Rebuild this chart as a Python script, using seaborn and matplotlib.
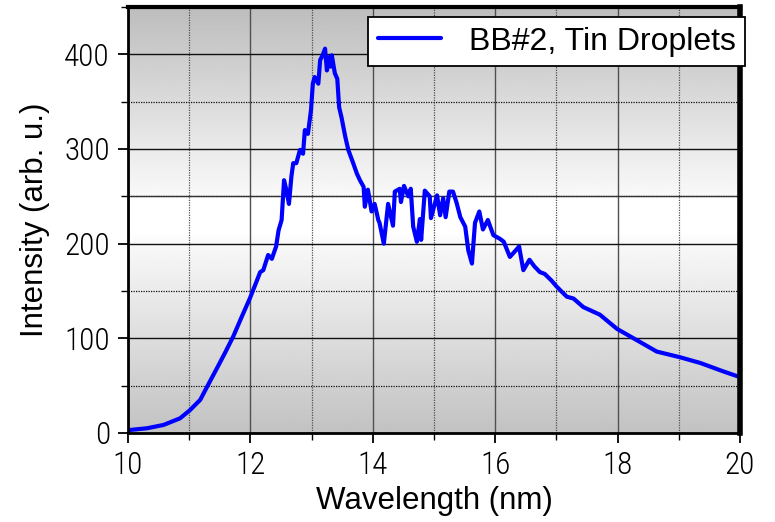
import numpy as np
import pandas as pd
import matplotlib
matplotlib.use("Agg")
import matplotlib.pyplot as plt
from matplotlib import font_manager
from matplotlib.ticker import MultipleLocator
from matplotlib.colors import LinearSegmentedColormap
import seaborn as sns

wavelength = [10.00, 10.31, 10.58, 10.85, 11.01, 11.18, 11.31, 11.45, 11.58, 11.72,
              11.86, 11.99, 12.10, 12.16, 12.21, 12.29, 12.35, 12.42, 12.46, 12.51,
              12.55, 12.59, 12.63, 12.67, 12.70, 12.75, 12.81, 12.86, 12.89, 12.94,
              12.99, 13.02, 13.05, 13.11, 13.14, 13.18, 13.22, 13.25, 13.28, 13.31,
              13.33, 13.38, 13.42, 13.45, 13.49, 13.55, 13.60, 13.68, 13.74, 13.79,
              13.85, 13.87, 13.92, 13.98, 14.03, 14.09, 14.11, 14.18, 14.25, 14.33,
              14.36, 14.44, 14.46, 14.51, 14.58, 14.62, 14.66, 14.72, 14.77, 14.79,
              14.85, 14.93, 14.95, 15.05, 15.10, 15.15, 15.19, 15.25, 15.31, 15.37,
              15.43, 15.51, 15.56, 15.62, 15.67, 15.74, 15.80, 15.88, 15.97, 16.08,
              16.14, 16.24, 16.31, 16.39, 16.46, 16.56, 16.64, 16.73, 16.81, 16.92,
              17.00, 17.06, 17.17, 17.28, 17.44, 17.71, 17.99, 18.37, 18.64, 19.02,
              19.35, 19.73, 20.00]
intensity = [3, 5, 8.5, 15.5, 24, 35, 51, 68, 84, 102,
             123, 142, 160, 170, 172, 188, 184, 197, 214, 225,
             267, 256, 242, 271, 285, 285, 299, 295, 320, 316,
             341, 369, 376, 369, 394, 399, 406, 383, 397, 387,
             399, 380, 374, 344, 333, 313, 299, 285, 274, 267,
             260, 239, 257, 234, 242, 225, 222, 200, 242, 219,
             255, 258, 244, 261, 250, 258, 218, 202, 226, 204,
             256, 250, 227, 251, 230, 248, 228, 255, 255, 243,
             228, 218, 193, 179, 222, 234, 215, 225, 209, 205,
             202, 186, 191, 197, 172, 183, 176, 170, 168, 161,
             155, 151, 144, 142, 133, 125, 110, 96, 86, 80,
             74, 65, 59]
series_label = "BB#2, Tin Droplets"
x_ticks = [10, 12, 14, 16, 18, 20]
y_ticks = [0, 100, 200, 300, 400]

sns.set_style("ticks")
names = {f.name for f in font_manager.fontManager.ttflist}
main_font = "Liberation Sans" if "Liberation Sans" in names else "DejaVu Sans"
narrow_font = main_font
for cand in ["Roboto Condensed", "Archivo Narrow", "PT Sans Narrow"]:
    if cand in names:
        narrow_font = cand
        break
plt.rcParams["font.family"] = [main_font, "DejaVu Sans"]
plt.rcParams["text.color"] = "black"
plt.rcParams["axes.labelcolor"] = "black"
plt.rcParams["xtick.color"] = "black"
plt.rcParams["ytick.color"] = "black"

fig = plt.figure(figsize=(7.75, 5.22), dpi=100)
ax = fig.add_axes([128 / 775, 1 - 433 / 522, 612 / 775, 426 / 522])

xmin, xmax, ymin, ymax = 10, 20, 0, 450

# background gradient
ys = np.linspace(ymin, ymax, 500)
vals = np.interp(ys, [0, 200, 212, 250, 252, 450], [0.76, 0.975, 1.0, 1.0, 0.975, 0.74])
img = np.tile(vals[:, None], (1, 2))
cmap = LinearSegmentedColormap.from_list("g", [(0, 0, 0), (1, 1, 1)])
ax.imshow(img, extent=[xmin, xmax, ymin, ymax], origin="lower", aspect="auto",
          cmap=cmap, vmin=0, vmax=1, zorder=0, interpolation="bilinear")

df = pd.DataFrame({"Wavelength (nm)": wavelength, "Intensity (arb. u.)": intensity})
sns.lineplot(data=df, x="Wavelength (nm)", y="Intensity (arb. u.)", ax=ax,
             color="#0000ff", linewidth=3.0, label=series_label, zorder=5, sort=False)

ax.set_xlim(xmin, xmax)
ax.set_ylim(ymin, ymax)
ax.set_xticks(x_ticks)
ax.set_yticks(y_ticks)
ax.xaxis.set_minor_locator(MultipleLocator(1))
ax.yaxis.set_minor_locator(MultipleLocator(50))

# grid
for xv in np.arange(10, 21, 2):
    ax.axvline(xv, color="#505050", lw=1.0, zorder=1)
for xv in np.arange(11, 20, 2):
    ax.axvline(xv, color="#505050", lw=0.9, ls=(0, (1, 1)), zorder=1)
for yv in np.arange(0, 451, 100):
    ax.axhline(yv, color="#111111", lw=1.0, zorder=1)
for yv in np.arange(50, 451, 100):
    ax.axhline(yv, color="#111111", lw=0.9, ls=(0, (1, 1)), zorder=1)
ax.axhline(250, color="#333333", lw=1.0, zorder=1)

ax.tick_params(axis="both", which="major", direction="out", length=7, width=1.3,
               color="black", labelcolor="black", labelsize=22.5, pad=6)
ax.tick_params(axis="both", which="minor", direction="out", length=5, width=1.0, color="black")
for lab in ax.get_xticklabels() + ax.get_yticklabels():
    lab.set_fontfamily([narrow_font, "DejaVu Sans"])
    lab.set_fontweight("light")

ax.set_xlabel("Wavelength (nm)", fontsize=22.5, labelpad=4, color="black")
ax.set_ylabel("Intensity (arb. u.)", fontsize=22.5, labelpad=10, color="black")

ax.spines["left"].set_linewidth(2.0)
ax.spines["bottom"].set_linewidth(2.0)
ax.spines["top"].set_linewidth(3.0)
ax.spines["right"].set_linewidth(4.0)
for s in ax.spines.values():
    s.set_color("black")
    s.set_zorder(6)

leg = ax.legend(loc="upper right", bbox_to_anchor=(745 / 775, 1 - 17 / 522),
                bbox_transform=fig.transFigure, fontsize=23, frameon=True,
                fancybox=False, framealpha=1, edgecolor="black", borderaxespad=0,
                borderpad=0.3, handlelength=2.0, handletextpad=0.85)
leg.get_frame().set_linewidth(1.3)
leg.set_zorder(10)
for t in leg.get_texts():
    t.set_color("black")

fig.savefig("out.png", dpi=100)
